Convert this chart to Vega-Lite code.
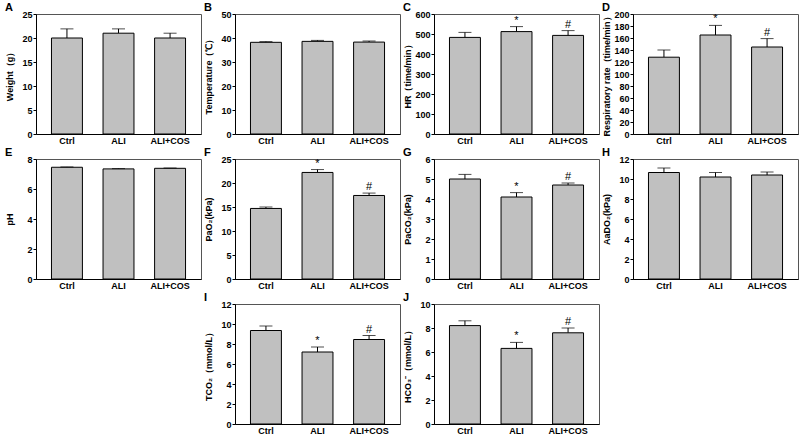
{
  "$schema": "https://vega.github.io/schema/vega-lite/v6.json",
  "background": "white",
  "padding": {"left": 4, "top": 1, "right": 0, "bottom": 0},
  "datasets": {
    "d": [
      {"panel": "A", "group": "Ctrl", "value": 20.0, "hi": 21.9, "sig": ""},
      {"panel": "A", "group": "ALI", "value": 21.0, "hi": 21.9, "sig": ""},
      {"panel": "A", "group": "ALI+COS", "value": 20.0, "hi": 21.0, "sig": ""},
      {"panel": "B", "group": "Ctrl", "value": 38.2, "hi": 38.5, "sig": ""},
      {"panel": "B", "group": "ALI", "value": 38.6, "hi": 39.0, "sig": ""},
      {"panel": "B", "group": "ALI+COS", "value": 38.3, "hi": 38.75, "sig": ""},
      {"panel": "C", "group": "Ctrl", "value": 483, "hi": 508, "sig": ""},
      {"panel": "C", "group": "ALI", "value": 512, "hi": 537, "sig": "*"},
      {"panel": "C", "group": "ALI+COS", "value": 493, "hi": 517, "sig": "#"},
      {"panel": "D", "group": "Ctrl", "value": 128, "hi": 140, "sig": ""},
      {"panel": "D", "group": "ALI", "value": 165, "hi": 181, "sig": "*"},
      {"panel": "D", "group": "ALI+COS", "value": 145, "hi": 159, "sig": "#"},
      {"panel": "E", "group": "Ctrl", "value": 7.45, "hi": 7.47, "sig": ""},
      {"panel": "E", "group": "ALI", "value": 7.34, "hi": 7.36, "sig": ""},
      {"panel": "E", "group": "ALI+COS", "value": 7.38, "hi": 7.40, "sig": ""},
      {"panel": "F", "group": "Ctrl", "value": 14.7, "hi": 15.0, "sig": ""},
      {"panel": "F", "group": "ALI", "value": 22.2, "hi": 22.8, "sig": "*"},
      {"panel": "F", "group": "ALI+COS", "value": 17.4, "hi": 17.9, "sig": "#"},
      {"panel": "G", "group": "Ctrl", "value": 5.0, "hi": 5.23, "sig": ""},
      {"panel": "G", "group": "ALI", "value": 4.1, "hi": 4.32, "sig": "*"},
      {"panel": "G", "group": "ALI+COS", "value": 4.7, "hi": 4.8, "sig": "#"},
      {"panel": "H", "group": "Ctrl", "value": 10.65, "hi": 11.1, "sig": ""},
      {"panel": "H", "group": "ALI", "value": 10.2, "hi": 10.65, "sig": ""},
      {"panel": "H", "group": "ALI+COS", "value": 10.4, "hi": 10.7, "sig": ""},
      {"panel": "I", "group": "Ctrl", "value": 9.35, "hi": 9.8, "sig": ""},
      {"panel": "I", "group": "ALI", "value": 7.2, "hi": 7.7, "sig": "*"},
      {"panel": "I", "group": "ALI+COS", "value": 8.45, "hi": 8.85, "sig": "#"},
      {"panel": "J", "group": "Ctrl", "value": 8.2, "hi": 8.6, "sig": ""},
      {"panel": "J", "group": "ALI", "value": 6.3, "hi": 6.8, "sig": "*"},
      {"panel": "J", "group": "ALI+COS", "value": 7.6, "hi": 8.0, "sig": "#"}
    ]
  },
  "data": {"name": "d"},
  "columns": 4,
  "spacing": {"row": 0, "column": 1},
  "concat": [
    {
      "title": "A", "width": 165, "height": 120,
      "transform": [{"filter": "datum.panel === 'A'"}],
      "encoding": {
        "x": {"field": "group", "type": "nominal", "sort": ["Ctrl", "ALI", "ALI+COS"], "title": null, "scale": {"paddingInner": 0.4, "paddingOuter": 0.3}}
      },
      "layer": [
        {"mark": {"type": "rule", "color": "black", "strokeWidth": 1}, "encoding": {"y": {"field": "value", "type": "quantitative", "scale": {"domain": [0, 25], "nice": false}, "axis": {"values": [0, 5, 10, 15, 20, 25], "title": "Weight（g）"}}, "y2": {"field": "hi"}}},
        {"mark": {"type": "bar", "fill": "#c0c0c0", "stroke": "black", "strokeWidth": 1}, "encoding": {"y": {"field": "value", "type": "quantitative", "scale": {"domain": [0, 25], "nice": false}, "axis": {"values": [0, 5, 10, 15, 20, 25], "title": "Weight（g）"}}}},
        {"mark": {"type": "tick", "color": "black", "thickness": 1, "size": 13}, "encoding": {"y": {"field": "hi", "type": "quantitative", "scale": {"domain": [0, 25], "nice": false}, "axis": {"values": [0, 5, 10, 15, 20, 25], "title": "Weight（g）"}}}},
        {"mark": {"type": "text", "baseline": "bottom", "dy": -1, "fontSize": 11, "color": "black"}, "encoding": {"y": {"field": "hi", "type": "quantitative", "scale": {"domain": [0, 25], "nice": false}, "axis": {"values": [0, 5, 10, 15, 20, 25], "title": "Weight（g）"}}, "text": {"field": "sig"}}}
      ]
    },
    {
      "title": "B", "width": 165, "height": 120,
      "transform": [{"filter": "datum.panel === 'B'"}],
      "encoding": {
        "x": {"field": "group", "type": "nominal", "sort": ["Ctrl", "ALI", "ALI+COS"], "title": null, "scale": {"paddingInner": 0.4, "paddingOuter": 0.3}}
      },
      "layer": [
        {"mark": {"type": "rule", "color": "black", "strokeWidth": 1}, "encoding": {"y": {"field": "value", "type": "quantitative", "scale": {"domain": [0, 50], "nice": false}, "axis": {"values": [0, 10, 20, 30, 40, 50], "title": "Temperature（℃）"}}, "y2": {"field": "hi"}}},
        {"mark": {"type": "bar", "fill": "#c0c0c0", "stroke": "black", "strokeWidth": 1}, "encoding": {"y": {"field": "value", "type": "quantitative", "scale": {"domain": [0, 50], "nice": false}, "axis": {"values": [0, 10, 20, 30, 40, 50], "title": "Temperature（℃）"}}}},
        {"mark": {"type": "tick", "color": "black", "thickness": 1, "size": 13}, "encoding": {"y": {"field": "hi", "type": "quantitative", "scale": {"domain": [0, 50], "nice": false}, "axis": {"values": [0, 10, 20, 30, 40, 50], "title": "Temperature（℃）"}}}},
        {"mark": {"type": "text", "baseline": "bottom", "dy": -1, "fontSize": 11, "color": "black"}, "encoding": {"y": {"field": "hi", "type": "quantitative", "scale": {"domain": [0, 50], "nice": false}, "axis": {"values": [0, 10, 20, 30, 40, 50], "title": "Temperature（℃）"}}, "text": {"field": "sig"}}}
      ]
    },
    {
      "title": "C", "width": 165, "height": 120,
      "transform": [{"filter": "datum.panel === 'C'"}],
      "encoding": {
        "x": {"field": "group", "type": "nominal", "sort": ["Ctrl", "ALI", "ALI+COS"], "title": null, "scale": {"paddingInner": 0.4, "paddingOuter": 0.3}}
      },
      "layer": [
        {"mark": {"type": "rule", "color": "black", "strokeWidth": 1}, "encoding": {"y": {"field": "value", "type": "quantitative", "scale": {"domain": [0, 600], "nice": false}, "axis": {"values": [0, 100, 200, 300, 400, 500, 600], "title": "HR（time/min）"}}, "y2": {"field": "hi"}}},
        {"mark": {"type": "bar", "fill": "#c0c0c0", "stroke": "black", "strokeWidth": 1}, "encoding": {"y": {"field": "value", "type": "quantitative", "scale": {"domain": [0, 600], "nice": false}, "axis": {"values": [0, 100, 200, 300, 400, 500, 600], "title": "HR（time/min）"}}}},
        {"mark": {"type": "tick", "color": "black", "thickness": 1, "size": 13}, "encoding": {"y": {"field": "hi", "type": "quantitative", "scale": {"domain": [0, 600], "nice": false}, "axis": {"values": [0, 100, 200, 300, 400, 500, 600], "title": "HR（time/min）"}}}},
        {"mark": {"type": "text", "baseline": "bottom", "dy": -1, "fontSize": 11, "color": "black"}, "encoding": {"y": {"field": "hi", "type": "quantitative", "scale": {"domain": [0, 600], "nice": false}, "axis": {"values": [0, 100, 200, 300, 400, 500, 600], "title": "HR（time/min）"}}, "text": {"field": "sig"}}}
      ]
    },
    {
      "title": "D", "width": 165, "height": 120,
      "transform": [{"filter": "datum.panel === 'D'"}],
      "encoding": {
        "x": {"field": "group", "type": "nominal", "sort": ["Ctrl", "ALI", "ALI+COS"], "title": null, "scale": {"paddingInner": 0.4, "paddingOuter": 0.3}}
      },
      "layer": [
        {"mark": {"type": "rule", "color": "black", "strokeWidth": 1}, "encoding": {"y": {"field": "value", "type": "quantitative", "scale": {"domain": [0, 200], "nice": false}, "axis": {"values": [0, 20, 40, 60, 80, 100, 120, 140, 160, 180, 200], "title": "Respiratory rate（time/min）"}}, "y2": {"field": "hi"}}},
        {"mark": {"type": "bar", "fill": "#c0c0c0", "stroke": "black", "strokeWidth": 1}, "encoding": {"y": {"field": "value", "type": "quantitative", "scale": {"domain": [0, 200], "nice": false}, "axis": {"values": [0, 20, 40, 60, 80, 100, 120, 140, 160, 180, 200], "title": "Respiratory rate（time/min）"}}}},
        {"mark": {"type": "tick", "color": "black", "thickness": 1, "size": 13}, "encoding": {"y": {"field": "hi", "type": "quantitative", "scale": {"domain": [0, 200], "nice": false}, "axis": {"values": [0, 20, 40, 60, 80, 100, 120, 140, 160, 180, 200], "title": "Respiratory rate（time/min）"}}}},
        {"mark": {"type": "text", "baseline": "bottom", "dy": -1, "fontSize": 11, "color": "black"}, "encoding": {"y": {"field": "hi", "type": "quantitative", "scale": {"domain": [0, 200], "nice": false}, "axis": {"values": [0, 20, 40, 60, 80, 100, 120, 140, 160, 180, 200], "title": "Respiratory rate（time/min）"}}, "text": {"field": "sig"}}}
      ]
    },
    {
      "title": "E", "width": 165, "height": 120,
      "transform": [{"filter": "datum.panel === 'E'"}],
      "encoding": {
        "x": {"field": "group", "type": "nominal", "sort": ["Ctrl", "ALI", "ALI+COS"], "title": null, "scale": {"paddingInner": 0.4, "paddingOuter": 0.3}}
      },
      "layer": [
        {"mark": {"type": "rule", "color": "black", "strokeWidth": 1}, "encoding": {"y": {"field": "value", "type": "quantitative", "scale": {"domain": [0, 8], "nice": false}, "axis": {"values": [0, 2, 4, 6, 8], "title": "pH"}}, "y2": {"field": "hi"}}},
        {"mark": {"type": "bar", "fill": "#c0c0c0", "stroke": "black", "strokeWidth": 1}, "encoding": {"y": {"field": "value", "type": "quantitative", "scale": {"domain": [0, 8], "nice": false}, "axis": {"values": [0, 2, 4, 6, 8], "title": "pH"}}}},
        {"mark": {"type": "tick", "color": "black", "thickness": 1, "size": 13}, "encoding": {"y": {"field": "hi", "type": "quantitative", "scale": {"domain": [0, 8], "nice": false}, "axis": {"values": [0, 2, 4, 6, 8], "title": "pH"}}}},
        {"mark": {"type": "text", "baseline": "bottom", "dy": -1, "fontSize": 11, "color": "black"}, "encoding": {"y": {"field": "hi", "type": "quantitative", "scale": {"domain": [0, 8], "nice": false}, "axis": {"values": [0, 2, 4, 6, 8], "title": "pH"}}, "text": {"field": "sig"}}}
      ]
    },
    {
      "title": "F", "width": 165, "height": 120,
      "transform": [{"filter": "datum.panel === 'F'"}],
      "encoding": {
        "x": {"field": "group", "type": "nominal", "sort": ["Ctrl", "ALI", "ALI+COS"], "title": null, "scale": {"paddingInner": 0.4, "paddingOuter": 0.3}}
      },
      "layer": [
        {"mark": {"type": "rule", "color": "black", "strokeWidth": 1}, "encoding": {"y": {"field": "value", "type": "quantitative", "scale": {"domain": [0, 25], "nice": false}, "axis": {"values": [0, 5, 10, 15, 20, 25], "title": "PaO₂(kPa)"}}, "y2": {"field": "hi"}}},
        {"mark": {"type": "bar", "fill": "#c0c0c0", "stroke": "black", "strokeWidth": 1}, "encoding": {"y": {"field": "value", "type": "quantitative", "scale": {"domain": [0, 25], "nice": false}, "axis": {"values": [0, 5, 10, 15, 20, 25], "title": "PaO₂(kPa)"}}}},
        {"mark": {"type": "tick", "color": "black", "thickness": 1, "size": 13}, "encoding": {"y": {"field": "hi", "type": "quantitative", "scale": {"domain": [0, 25], "nice": false}, "axis": {"values": [0, 5, 10, 15, 20, 25], "title": "PaO₂(kPa)"}}}},
        {"mark": {"type": "text", "baseline": "bottom", "dy": -1, "fontSize": 11, "color": "black"}, "encoding": {"y": {"field": "hi", "type": "quantitative", "scale": {"domain": [0, 25], "nice": false}, "axis": {"values": [0, 5, 10, 15, 20, 25], "title": "PaO₂(kPa)"}}, "text": {"field": "sig"}}}
      ]
    },
    {
      "title": "G", "width": 165, "height": 120,
      "transform": [{"filter": "datum.panel === 'G'"}],
      "encoding": {
        "x": {"field": "group", "type": "nominal", "sort": ["Ctrl", "ALI", "ALI+COS"], "title": null, "scale": {"paddingInner": 0.4, "paddingOuter": 0.3}}
      },
      "layer": [
        {"mark": {"type": "rule", "color": "black", "strokeWidth": 1}, "encoding": {"y": {"field": "value", "type": "quantitative", "scale": {"domain": [0, 6], "nice": false}, "axis": {"values": [0, 1, 2, 3, 4, 5, 6], "title": "PaCO₂(kPa)"}}, "y2": {"field": "hi"}}},
        {"mark": {"type": "bar", "fill": "#c0c0c0", "stroke": "black", "strokeWidth": 1}, "encoding": {"y": {"field": "value", "type": "quantitative", "scale": {"domain": [0, 6], "nice": false}, "axis": {"values": [0, 1, 2, 3, 4, 5, 6], "title": "PaCO₂(kPa)"}}}},
        {"mark": {"type": "tick", "color": "black", "thickness": 1, "size": 13}, "encoding": {"y": {"field": "hi", "type": "quantitative", "scale": {"domain": [0, 6], "nice": false}, "axis": {"values": [0, 1, 2, 3, 4, 5, 6], "title": "PaCO₂(kPa)"}}}},
        {"mark": {"type": "text", "baseline": "bottom", "dy": -1, "fontSize": 11, "color": "black"}, "encoding": {"y": {"field": "hi", "type": "quantitative", "scale": {"domain": [0, 6], "nice": false}, "axis": {"values": [0, 1, 2, 3, 4, 5, 6], "title": "PaCO₂(kPa)"}}, "text": {"field": "sig"}}}
      ]
    },
    {
      "title": "H", "width": 165, "height": 120,
      "transform": [{"filter": "datum.panel === 'H'"}],
      "encoding": {
        "x": {"field": "group", "type": "nominal", "sort": ["Ctrl", "ALI", "ALI+COS"], "title": null, "scale": {"paddingInner": 0.4, "paddingOuter": 0.3}}
      },
      "layer": [
        {"mark": {"type": "rule", "color": "black", "strokeWidth": 1}, "encoding": {"y": {"field": "value", "type": "quantitative", "scale": {"domain": [0, 12], "nice": false}, "axis": {"values": [0, 2, 4, 6, 8, 10, 12], "title": "AaDO₂(kPa)"}}, "y2": {"field": "hi"}}},
        {"mark": {"type": "bar", "fill": "#c0c0c0", "stroke": "black", "strokeWidth": 1}, "encoding": {"y": {"field": "value", "type": "quantitative", "scale": {"domain": [0, 12], "nice": false}, "axis": {"values": [0, 2, 4, 6, 8, 10, 12], "title": "AaDO₂(kPa)"}}}},
        {"mark": {"type": "tick", "color": "black", "thickness": 1, "size": 13}, "encoding": {"y": {"field": "hi", "type": "quantitative", "scale": {"domain": [0, 12], "nice": false}, "axis": {"values": [0, 2, 4, 6, 8, 10, 12], "title": "AaDO₂(kPa)"}}}},
        {"mark": {"type": "text", "baseline": "bottom", "dy": -1, "fontSize": 11, "color": "black"}, "encoding": {"y": {"field": "hi", "type": "quantitative", "scale": {"domain": [0, 12], "nice": false}, "axis": {"values": [0, 2, 4, 6, 8, 10, 12], "title": "AaDO₂(kPa)"}}, "text": {"field": "sig"}}}
      ]
    },
    {
      "data": {"values": []},
      "width": 165, "height": 120,
      "view": {"stroke": null},
      "mark": {"type": "point", "opacity": 0},
      "encoding": {}
    },
    {
      "title": "I", "width": 165, "height": 120,
      "transform": [{"filter": "datum.panel === 'I'"}],
      "encoding": {
        "x": {"field": "group", "type": "nominal", "sort": ["Ctrl", "ALI", "ALI+COS"], "title": null, "scale": {"paddingInner": 0.4, "paddingOuter": 0.3}}
      },
      "layer": [
        {"mark": {"type": "rule", "color": "black", "strokeWidth": 1}, "encoding": {"y": {"field": "value", "type": "quantitative", "scale": {"domain": [0, 12], "nice": false}, "axis": {"values": [0, 2, 4, 6, 8, 10, 12], "title": "TCO₂（mmol/L）"}}, "y2": {"field": "hi"}}},
        {"mark": {"type": "bar", "fill": "#c0c0c0", "stroke": "black", "strokeWidth": 1}, "encoding": {"y": {"field": "value", "type": "quantitative", "scale": {"domain": [0, 12], "nice": false}, "axis": {"values": [0, 2, 4, 6, 8, 10, 12], "title": "TCO₂（mmol/L）"}}}},
        {"mark": {"type": "tick", "color": "black", "thickness": 1, "size": 13}, "encoding": {"y": {"field": "hi", "type": "quantitative", "scale": {"domain": [0, 12], "nice": false}, "axis": {"values": [0, 2, 4, 6, 8, 10, 12], "title": "TCO₂（mmol/L）"}}}},
        {"mark": {"type": "text", "baseline": "bottom", "dy": -1, "fontSize": 11, "color": "black"}, "encoding": {"y": {"field": "hi", "type": "quantitative", "scale": {"domain": [0, 12], "nice": false}, "axis": {"values": [0, 2, 4, 6, 8, 10, 12], "title": "TCO₂（mmol/L）"}}, "text": {"field": "sig"}}}
      ]
    },
    {
      "title": "J", "width": 165, "height": 120,
      "transform": [{"filter": "datum.panel === 'J'"}],
      "encoding": {
        "x": {"field": "group", "type": "nominal", "sort": ["Ctrl", "ALI", "ALI+COS"], "title": null, "scale": {"paddingInner": 0.4, "paddingOuter": 0.3}}
      },
      "layer": [
        {"mark": {"type": "rule", "color": "black", "strokeWidth": 1}, "encoding": {"y": {"field": "value", "type": "quantitative", "scale": {"domain": [0, 10], "nice": false}, "axis": {"values": [0, 2, 4, 6, 8, 10], "title": "HCO₃⁻（mmol/L）"}}, "y2": {"field": "hi"}}},
        {"mark": {"type": "bar", "fill": "#c0c0c0", "stroke": "black", "strokeWidth": 1}, "encoding": {"y": {"field": "value", "type": "quantitative", "scale": {"domain": [0, 10], "nice": false}, "axis": {"values": [0, 2, 4, 6, 8, 10], "title": "HCO₃⁻（mmol/L）"}}}},
        {"mark": {"type": "tick", "color": "black", "thickness": 1, "size": 13}, "encoding": {"y": {"field": "hi", "type": "quantitative", "scale": {"domain": [0, 10], "nice": false}, "axis": {"values": [0, 2, 4, 6, 8, 10], "title": "HCO₃⁻（mmol/L）"}}}},
        {"mark": {"type": "text", "baseline": "bottom", "dy": -1, "fontSize": 11, "color": "black"}, "encoding": {"y": {"field": "hi", "type": "quantitative", "scale": {"domain": [0, 10], "nice": false}, "axis": {"values": [0, 2, 4, 6, 8, 10], "title": "HCO₃⁻（mmol/L）"}}, "text": {"field": "sig"}}}
      ]
    }
  ],
  "config": {
    "font": "Liberation Sans",
    "view": {"stroke": "#555555", "strokeWidth": 1},
    "axis": {
      "labelFont": "Liberation Sans", "labelFontWeight": "bold", "labelFontSize": 9, "labelColor": "black",
      "titleFont": "Liberation Sans", "titleFontWeight": "bold", "titleFontSize": 9, "titleColor": "black",
      "domainColor": "black", "tickColor": "black", "grid": false
    },
    "axisX": {"ticks": false, "labelAngle": 0, "labelPadding": 2, "minExtent": 11, "maxExtent": 11},
    "axisY": {"tickSize": 3, "labelPadding": 1, "minExtent": 20, "maxExtent": 20, "titlePadding": 2},
    "title": {"anchor": "start", "frame": "bounds", "fontSize": 11, "fontWeight": "bold", "font": "Liberation Sans", "color": "black", "offset": -3}
  }
}
